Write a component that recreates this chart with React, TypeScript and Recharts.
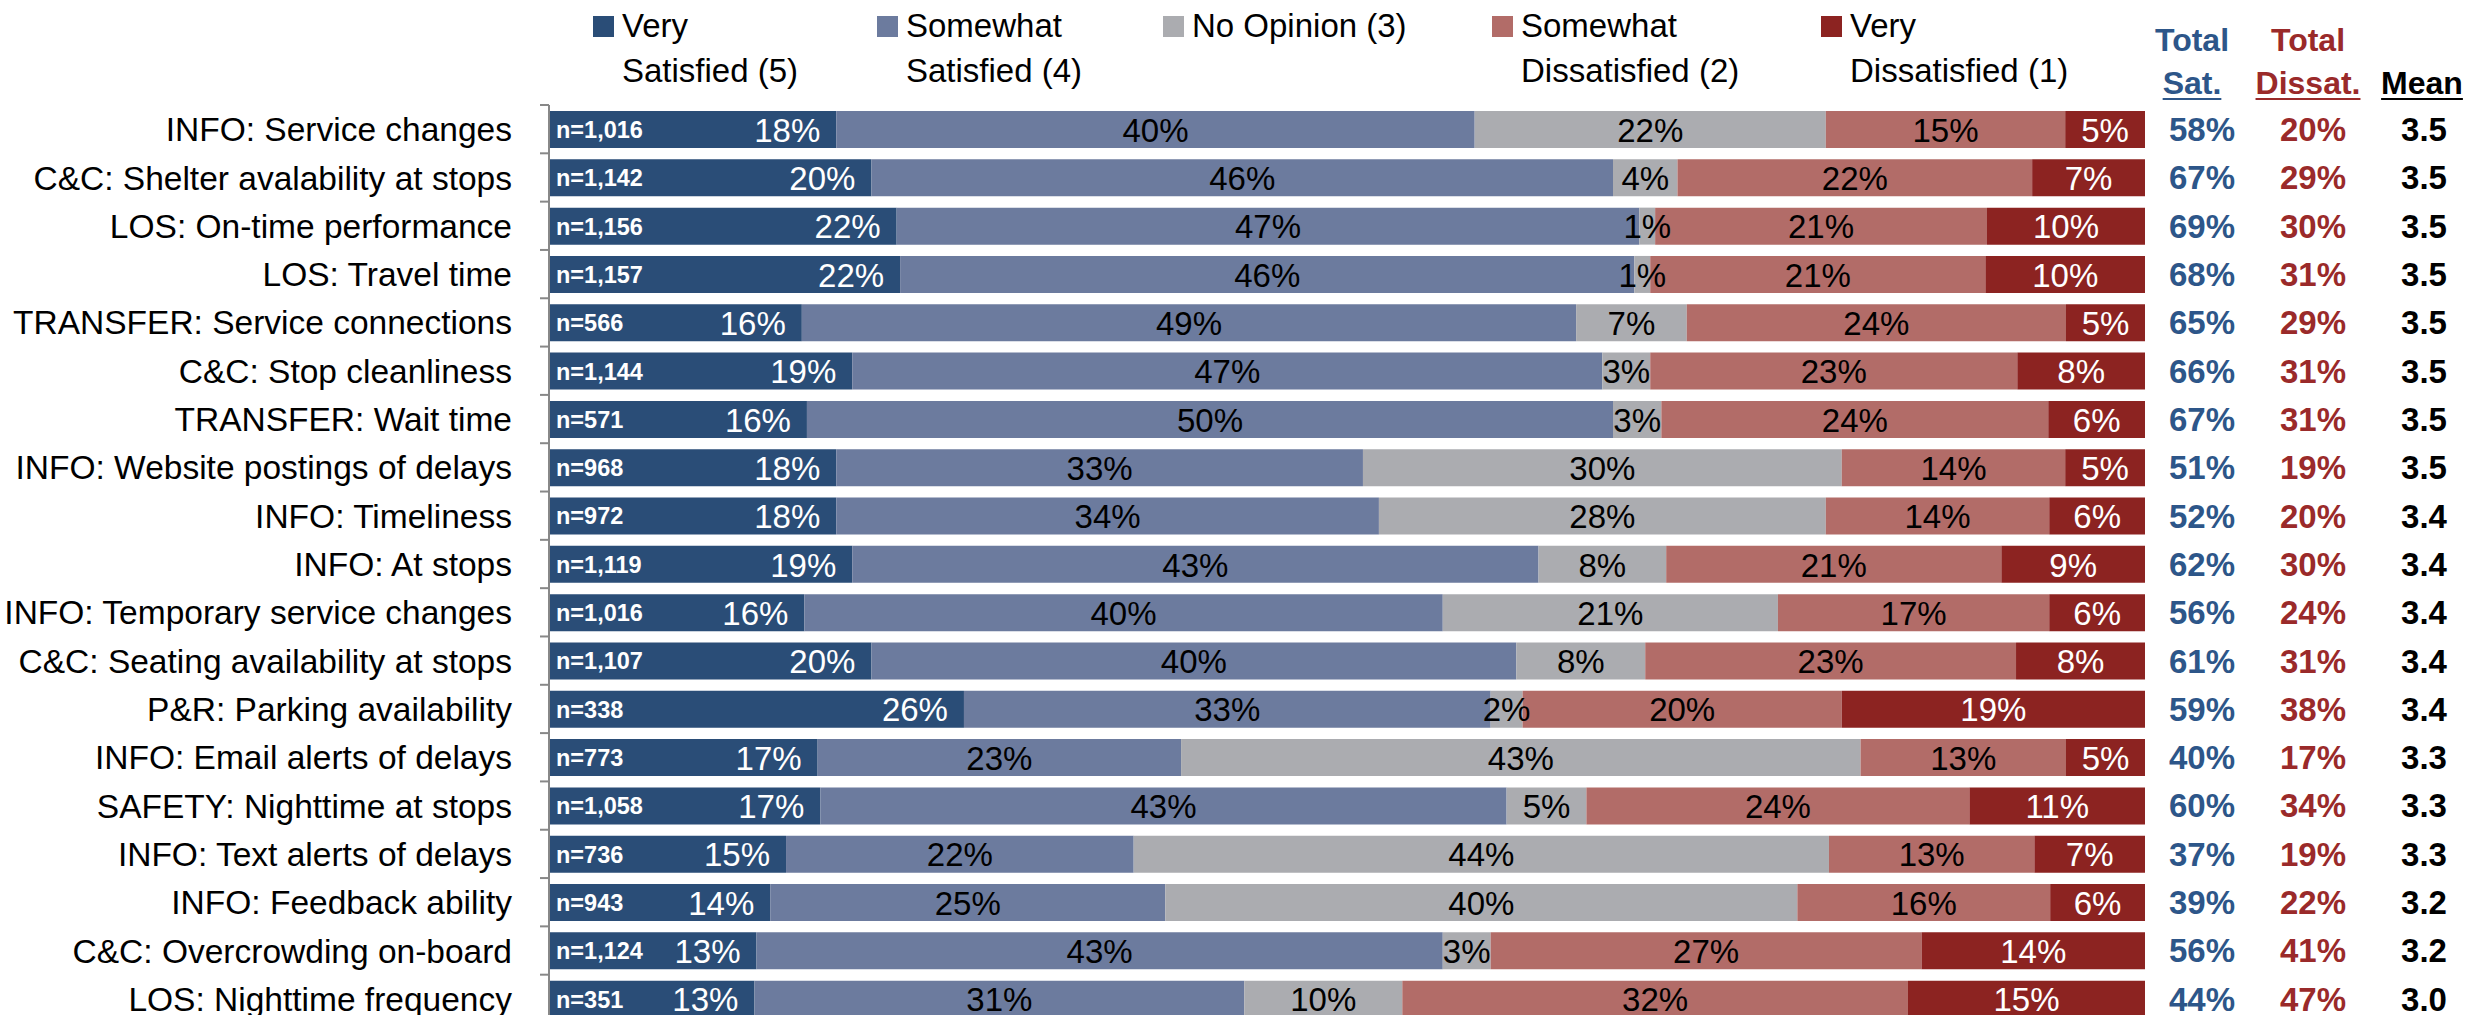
import React from "react";
import { BarChart, Bar, XAxis, YAxis, LabelList } from "recharts";

const categories = [
  "INFO: Service changes",
  "C&C: Shelter avalability at stops",
  "LOS: On-time performance",
  "LOS: Travel time",
  "TRANSFER: Service connections",
  "C&C: Stop cleanliness",
  "TRANSFER: Wait time",
  "INFO: Website postings of delays",
  "INFO: Timeliness",
  "INFO: At stops",
  "INFO: Temporary service changes",
  "C&C: Seating availability at stops",
  "P&R: Parking availability",
  "INFO: Email alerts of delays",
  "SAFETY: Nighttime at stops",
  "INFO: Text alerts of delays",
  "INFO: Feedback ability",
  "C&C: Overcrowding on-board",
  "LOS: Nighttime frequency",
];
const sampleSizes = [
  "n=1,016", "n=1,142", "n=1,156", "n=1,157", "n=566", "n=1,144", "n=571", "n=968", "n=972", "n=1,119",
  "n=1,016", "n=1,107", "n=338", "n=773", "n=1,058", "n=736", "n=943", "n=1,124", "n=351",
];
const verySat = [18, 20, 22, 22, 16, 19, 16, 18, 18, 19, 16, 20, 26, 17, 17, 15, 14, 13, 13];
const somewhatSat = [40, 46, 47, 46, 49, 47, 50, 33, 34, 43, 40, 40, 33, 23, 43, 22, 25, 43, 31];
const noOpinion = [22, 4, 1, 1, 7, 3, 3, 30, 28, 8, 21, 8, 2, 43, 5, 44, 40, 3, 10];
const somewhatDis = [15, 22, 21, 21, 24, 23, 24, 14, 14, 21, 17, 23, 20, 13, 24, 13, 16, 27, 32];
const veryDis = [5, 7, 10, 10, 5, 8, 6, 5, 6, 9, 6, 8, 19, 5, 11, 7, 6, 14, 15];
const totalSat = [58, 67, 69, 68, 65, 66, 67, 51, 52, 62, 56, 61, 59, 40, 60, 37, 39, 56, 44];
const totalDis = [20, 29, 30, 31, 29, 31, 31, 19, 20, 30, 24, 31, 38, 17, 34, 19, 22, 41, 47];
const means = ["3.5", "3.5", "3.5", "3.5", "3.5", "3.5", "3.5", "3.5", "3.4", "3.4", "3.4", "3.4", "3.4", "3.3", "3.3", "3.3", "3.2", "3.2", "3.0"];

const seriesKeys = ["vs", "ss", "no", "sd", "vd"];
const seriesNames = ["Very\nSatisfied (5)", "Somewhat\nSatisfied (4)", "No Opinion (3)", "Somewhat\nDissatisfied (2)", "Very\nDissatisfied (1)"];
const seriesColors = ["#2A4D77", "#6C7B9E", "#ABACB0", "#B26C68", "#8C2321"];
const labelColors = ["#fff", "#000", "#000", "#000", "#fff"];
const legendX = [593, 877, 1163, 1492, 1821];

const SAT_BLUE = "#2D5689";
const DIS_RED = "#9A2A2A";
const FONT = "'Liberation Sans', Arial, sans-serif";

const rows = categories.map((label, i) => ({
  label,
  n: sampleSizes[i],
  vs: verySat[i],
  ss: somewhatSat[i],
  no: noOpinion[i],
  sd: somewhatDis[i],
  vd: veryDis[i],
  sat: totalSat[i],
  dis: totalDis[i],
  mean: means[i],
}));

const W = 2469;
const H = 1040;
const TOP = 105;
const BOTTOM = 17;
const BAND = (H - TOP - BOTTOM) / rows.length;

function CategoryTick(props: any) {
  const { x, y, payload } = props;
  const ax = x + 37;
  return (
    <g>
      <line x1={ax - 9} x2={ax} y1={y - BAND / 2} y2={y - BAND / 2} stroke="#888" strokeWidth={2} />
      <text x={x} y={y} dy="0.36em" textAnchor="end" fontSize={33.5} fill="#000">{payload.value}</text>
    </g>
  );
}

function TotalsTick(props: any) {
  const { x, y, payload } = props;
  const r = rows[payload.index];
  return (
    <g fontSize={33} fontWeight="bold" textAnchor="middle">
      <text x={x + 57} y={y} dy="0.36em" fill={SAT_BLUE}>{r.sat}%</text>
      <text x={x + 168} y={y} dy="0.36em" fill={DIS_RED}>{r.dis}%</text>
      <text x={x + 279} y={y} dy="0.36em" fill="#000">{r.mean}</text>
    </g>
  );
}

function makeLabel(si: number) {
  return (p: any) => {
    const x = Number(p.x), y = Number(p.y), w = Number(p.width), h = Number(p.height);
    const cy = y + h / 2;
    if (si === 0) {
      return (
        <g>
          <text x={x + 7} y={cy} dy="0.36em" fill="#fff" fontSize={23.5} fontWeight="bold">{rows[p.index].n}</text>
          <text x={x + w - 16} y={cy} dy="0.37em" textAnchor="end" fill="#fff" fontSize={33}>{p.value}%</text>
        </g>
      );
    }
    return (
      <text x={x + w / 2} y={cy} dy="0.37em" textAnchor="middle" fill={labelColors[si]} fontSize={33}>{p.value}%</text>
    );
  };
}

function Header({ cx, lines, color }: { cx: number; lines: string[]; color: string }) {
  return (
    <div style={{ position: "absolute", left: cx - 90, top: 19, width: 180, textAlign: "center", fontWeight: "bold", fontSize: 32, lineHeight: "43px", color }}>
      {lines.length === 1 ? <div>&nbsp;</div> : <div>{lines[0]}</div>}
      <div><span style={{ textDecoration: "underline", textDecorationThickness: 2, textUnderlineOffset: 4 }}>{lines[lines.length - 1]}</span></div>
    </div>
  );
}

export default function App() {
  return (
    <div style={{ position: "absolute", left: 0, top: 0, width: W, height: 1015, overflow: "hidden", background: "#fff", fontFamily: FONT }}>
      {seriesNames.map((name, i) => (
        <div key={name} style={{ position: "absolute", left: legendX[i], top: 0 }}>
          <div style={{ position: "absolute", left: 0, top: 16, width: 21, height: 21, background: seriesColors[i] }} />
          <div style={{ position: "absolute", left: 29, top: 3, fontSize: 33, lineHeight: "45px", whiteSpace: "pre", color: "#000" }}>{name}</div>
        </div>
      ))}
      <Header cx={2192} lines={["Total", "Sat."]} color={SAT_BLUE} />
      <Header cx={2308} lines={["Total", "Dissat."]} color={DIS_RED} />
      <Header cx={2422} lines={["Mean"]} color="#000" />
      <BarChart
        width={W}
        height={H}
        data={rows}
        layout="vertical"
        stackOffset="expand"
        barSize={37}
        margin={{ top: TOP, right: 0, bottom: BOTTOM, left: 0 }}
      >
        <XAxis type="number" hide />
        <YAxis
          yAxisId="l"
          type="category"
          dataKey="label"
          width={549}
          tickSize={0}
          tickMargin={37}
          tickLine={false}
          axisLine={{ stroke: "#888", strokeWidth: 2 }}
          interval={0}
          tick={<CategoryTick />}
        />
        <YAxis
          yAxisId="r"
          orientation="right"
          type="category"
          dataKey="label"
          width={324}
          tickSize={0}
          tickMargin={0}
          tickLine={false}
          axisLine={false}
          interval={0}
          tick={<TotalsTick />}
        />
        {seriesKeys.map((k, i) => (
          <Bar key={k} yAxisId="l" dataKey={k} name={seriesNames[i]} stackId="a" fill={seriesColors[i]} isAnimationActive={false}>
            <LabelList dataKey={k} content={makeLabel(i)} />
          </Bar>
        ))}
      </BarChart>
    </div>
  );
}
